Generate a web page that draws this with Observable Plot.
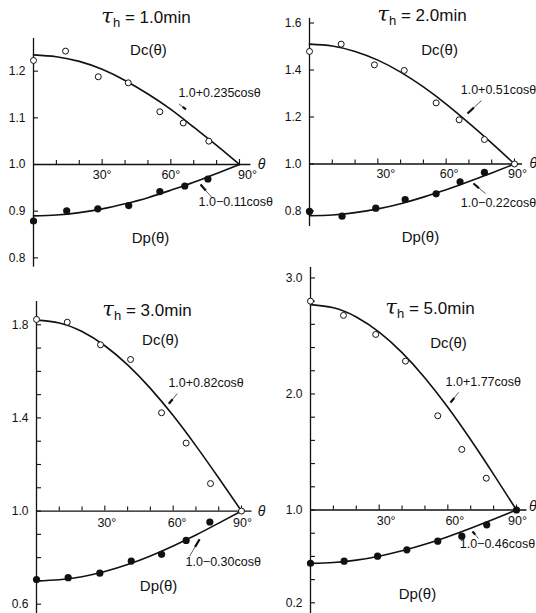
<!DOCTYPE html>
<html><head><meta charset="utf-8">
<script src="https://cdn.jsdelivr.net/npm/d3@7"></script>
<script src="https://cdn.jsdelivr.net/npm/@observablehq/plot@0.6"></script>
<style>
body{margin:0;background:#fff;}
#fig{position:relative;width:536px;height:613px;overflow:hidden;font-family:"Liberation Sans",Arial,sans-serif;color:#111;}
.panel{position:absolute;}
.panel text.formula{letter-spacing:-0.5px;}
.title{position:absolute;font-size:17px;white-space:nowrap;transform:translate(-50%,-50%);line-height:1;}
.title .tau{font-family:"DejaVu Serif",serif;font-style:italic;font-size:21px;}
.title sub{font-size:13px;vertical-align:-4px;}
</style></head><body><div id="fig"></div>
<script>
// ---------- data ----------
const curveTheta = [0,10,20,30,40,50,60,70,80,90];
const xTicks = [10,20,30,40,50,60,70,80,90];
const xTickLabels = [30,60,90];

// tau_h = 1.0 min
const t1Title = "1.0min";
const t1DcTheta = [0,14,28.3,41.4,55.2,65.4,76.6];
const t1Dc      = [1.223,1.243,1.188,1.175,1.113,1.089,1.05];
const t1DpTheta = [0,14.5,28.1,41.6,55.2,66.1,76.2];
const t1Dp      = [0.879,0.901,0.905,0.912,0.942,0.954,0.969];
const t1DcCurve = [1.235,1.231,1.221,1.204,1.180,1.151,1.118,1.080,1.041,1.0];
const t1DpCurve = [0.890,0.892,0.897,0.905,0.916,0.929,0.945,0.962,0.981,1.0];
const t1YTicks  = [0.8,0.9,1.0,1.1,1.2];
const t1YLabels = [0.8,0.9,1.0,1.1,1.2];
const t1DcFormula = "1.0+0.235cosθ";
const t1DpFormula = "1.0−0.11cosθ";

// tau_h = 2.0 min
const t2Title = "2.0min";
const t2DcTheta = [0,13.9,28.5,41.6,55.6,65.7,76.8,90];
const t2Dc      = [1.479,1.51,1.422,1.398,1.26,1.188,1.104,1.0];
const t2DpTheta = [0,14.3,29.1,42,55.6,66.1,76.8];
const t2Dp      = [0.798,0.778,0.812,0.849,0.873,0.924,0.964];
const t2DcCurve = [1.51,1.502,1.479,1.442,1.391,1.328,1.255,1.174,1.089,1.0];
const t2DpCurve = [0.78,0.783,0.793,0.809,0.831,0.859,0.89,0.925,0.962,1.0];
const t2YTicks  = [0.8,1.0,1.2,1.4,1.6];
const t2YLabels = [0.8,1.0,1.2,1.4,1.6];
const t2DcFormula = "1.0+0.51cosθ";
const t2DpFormula = "1.0−0.22cosθ";

// tau_h = 3.0 min
const t3Title = "3.0min";
const t3DcTheta = [0,13.5,28.1,41.3,54.9,65.7,76.4,90];
const t3Dc      = [1.823,1.811,1.714,1.651,1.422,1.292,1.118,1.0];
const t3DpTheta = [0,13.9,27.8,41.6,54.9,65.7,76.1];
const t3Dp      = [0.706,0.714,0.733,0.785,0.814,0.874,0.953];
const t3DcCurve = [1.82,1.808,1.771,1.71,1.628,1.527,1.41,1.28,1.142,1.0];
const t3DpCurve = [0.70,0.705,0.718,0.74,0.77,0.807,0.85,0.897,0.948,1.0];
const t3YTicks  = [0.6,0.7,0.8,0.9,1.0,1.1,1.2,1.3,1.4,1.5,1.6,1.7,1.8];
const t3YLabels = [0.6,1.0,1.4,1.8];
const t3DcFormula = "1.0+0.82cosθ";
const t3DpFormula = "1.0−0.30cosθ";

// tau_h = 5.0 min
const t5Title = "5.0min";
const t5DcTheta = [0,14.4,28.5,41.5,55.6,66.1,76.8];
const t5Dc      = [2.80,2.677,2.513,2.283,1.812,1.522,1.274];
const t5DpTheta = [0,14.7,29.3,42.1,55.6,66.1,77,90];
const t5Dp      = [0.541,0.559,0.602,0.657,0.731,0.774,0.872,1.0];
const t5DcCurve = [2.77,2.743,2.664,2.533,2.356,2.138,1.885,1.605,1.307,1.0];
const t5DpCurve = [0.54,0.547,0.568,0.602,0.648,0.704,0.77,0.843,0.92,1.0];
const t5YTicks  = [0.2,0.4,0.6,0.8,1.0,1.2,1.4,1.6,1.8,2.0,2.2,2.4,2.6,2.8,3.0];
const t5YLabels = [0.2,1.0,2.0,3.0];
const t5DcFormula = "1.0+1.77cosθ";
const t5DpFormula = "1.0−0.46cosθ";

// ---------- layout (positions of panels & annotations) ----------
const panels = [
  {title:t1Title, dcT:t1DcTheta, dc:t1Dc, dpT:t1DpTheta, dp:t1Dp, dcC:t1DcCurve, dpC:t1DpCurve, yt:t1YTicks, yl:t1YLabels, fDc:t1DcFormula, fDp:t1DpFormula,
   left:0, top:0, width:268, height:300, mL:33, mR:29, mT:38, mB:33.3, yDomain:[0.78,1.27], xEnd:95, thetaX:99.6, thetaDy:0, lblDx:[0,0,8], lblDy:10,
   titleXY:[146,17], dcLbl:[50.2,1.244], dpLbl:[51.1,0.842], fDcXY:[63.3,1.154], fDpXY:[72.1,0.919],
   lead1:[63.5,1.130,66.6,1.118], lead2:[78.0,0.929,73.0,0.957]},
  {title:t2Title, dcT:t2DcTheta, dc:t2Dc, dpT:t2DpTheta, dp:t2Dp, dcC:t2DcCurve, dpC:t2DpCurve, yt:t2YTicks, yl:t2YLabels, fDc:t2DcFormula, fDp:t2DpFormula,
   left:268, top:0, width:268, height:300, mL:41, mR:22, mT:17.8, mB:74, yDomain:[0.734,1.62], xEnd:93.5, thetaX:98.3, thetaDy:0, lblDx:[8,3,3], lblDy:10,
   titleXY:[422,15], dcLbl:[57.1,1.483], dpLbl:[48.7,0.687], fDcXY:[66.4,1.317], fDpXY:[66.4,0.836],
   lead1:[75.5,1.270,69.4,1.215], lead2:[77.3,0.874,72.0,0.917]},
  {title:t3Title, dcT:t3DcTheta, dc:t3Dc, dpT:t3DpTheta, dp:t3Dp, dcC:t3DcCurve, dpC:t3DpCurve, yt:t3YTicks, yl:t3YLabels, fDc:t3DcFormula, fDp:t3DpFormula,
   left:0, top:300, width:268, height:313, mL:36, mR:27, mT:1, mB:0, yDomain:[0.56,1.9], xEnd:94.6, thetaX:98.8, thetaDy:0, lblDx:[2,4,1], lblDy:12,
   titleXY:[147,310], dcLbl:[54.4,1.733], dpLbl:[53.6,0.677], fDcXY:[57.9,1.552], fDpXY:[65.4,0.780],
   lead1:[61.8,1.504,58.1,1.461], lead2:[67.2,0.806,71.6,0.879]},
  {title:t5Title, dcT:t5DcTheta, dc:t5Dc, dpT:t5DpTheta, dp:t5Dp, dcC:t5DcCurve, dpC:t5DpCurve, yt:t5YTicks, yl:t5YLabels, fDc:t5DcFormula, fDp:t5DpFormula,
   left:268, top:260, width:268, height:353, mL:42, mR:20, mT:7, mB:0, yDomain:[0.108,3.09], xEnd:94.6, thetaX:97.1, thetaDy:-3, lblDx:[7,7,1], lblDy:11,
   titleXY:[430,308], dcLbl:[60.3,2.435], dpLbl:[46.7,0.272], fDcXY:[59.0,2.099], fDpXY:[65.2,0.711],
   lead1:[64.7,2.013,61.2,1.927], lead2:[73.4,0.754,70.8,0.815]}
];

const fig = document.getElementById("fig");
const fmt = d3.format(".1f");
const FONT = '"Liberation Sans",Arial,sans-serif';
const INK = "#111";

for (const p of panels) {
  const pxX = (p.width - p.mL - p.mR) / 90;
  const pxY = (p.height - p.mT - p.mB) / (p.yDomain[1] - p.yDomain[0]);
  const dcPts = p.dcT.map((t,i)=>({t, v:p.dc[i]}));
  const dpPts = p.dpT.map((t,i)=>({t, v:p.dp[i]}));
  const dcLine = curveTheta.map((t,i)=>({t, v:p.dcC[i]}));
  const dpLine = curveTheta.map((t,i)=>({t, v:p.dpC[i]}));
  const leaders = [p.lead1, p.lead2].map(([x1,y1,x2,y2])=>({x1,y1,x2,y2,
      xm: x1 + (x2-x1)*0.55, ym: y1 + (y2-y1)*0.55}));
  const xLabelMarks = xTickLabels.map((d,i)=>
    Plot.text([d], {x:d=>d, y:1, text:d=>d+"°", dy:p.lblDy, dx:p.lblDx[i], fontSize:12.5, fill:INK}));
  const chart = Plot.plot({
    width: p.width, height: p.height,
    marginLeft: p.mL, marginRight: p.mR, marginTop: p.mT, marginBottom: p.mB,
    x: {domain:[0,90], axis:null},
    y: {domain:p.yDomain, axis:null},
    style: {background:"transparent", fontFamily:FONT, fontSize:"12px", overflow:"visible", color:INK},
    marks: [
      Plot.ruleX([0], {stroke:INK, strokeWidth:1.3}),
      Plot.ruleY([1], {x1:0, x2:p.xEnd, stroke:INK, strokeWidth:1.3}),
      Plot.ruleX(xTicks, {x:d=>d, y1:1, y2:d=>1 + (xTickLabels.includes(d)?5:4)/pxY, stroke:INK, strokeWidth:1.1}),
      Plot.ruleY(p.yt, {y:d=>d, x1:0, x2:5/pxX, stroke:INK, strokeWidth:1.1}),
      Plot.text(p.yl, {x:0, y:d=>d, text:d=>fmt(d), textAnchor:"end", dx:-8, fontSize:12, fill:INK}),
      ...xLabelMarks,
      Plot.text(["θ"], {x:p.thetaX, y:1, dy:p.thetaDy, text:d=>d, fontSize:14, fontStyle:"italic", fill:INK}),
      Plot.line(dcLine, {x:"t", y:"v", curve:"natural", stroke:INK, strokeWidth:1.6}),
      Plot.line(dpLine, {x:"t", y:"v", curve:"natural", stroke:INK, strokeWidth:1.6}),
      Plot.dot(dcPts, {x:"t", y:"v", r:3, fill:"white", stroke:INK, strokeWidth:1}),
      Plot.dot(dpPts, {x:"t", y:"v", r:3.6, fill:INK}),
      Plot.link(leaders, {x1:"x1", y1:"y1", x2:"x2", y2:"y2", stroke:INK, strokeWidth:0.7}),
      Plot.link(leaders, {x1:"xm", y1:"ym", x2:"x2", y2:"y2", stroke:INK, strokeWidth:2.2}),
      Plot.text([p.fDc], {x:p.fDcXY[0], y:p.fDcXY[1], text:d=>d, textAnchor:"start", fontSize:12.5, fill:INK, className:"formula"}),
      Plot.text([p.fDp], {x:p.fDpXY[0], y:p.fDpXY[1], text:d=>d, textAnchor:"start", fontSize:12.5, fill:INK, className:"formula"}),
      Plot.text(["Dc(θ)"], {x:p.dcLbl[0], y:p.dcLbl[1], text:d=>d, fontSize:15, fill:INK}),
      Plot.text(["Dp(θ)"], {x:p.dpLbl[0], y:p.dpLbl[1], text:d=>d, fontSize:15, fill:INK})
    ]
  });
  chart.classList.add("panel");
  chart.style.left = p.left + "px";
  chart.style.top = p.top + "px";
  fig.appendChild(chart);
  const title = document.createElement("div");
  title.className = "title";
  title.innerHTML = '<span class="tau">τ</span><sub>h</sub> = ' + p.title;
  title.style.left = p.titleXY[0] + "px";
  title.style.top = p.titleXY[1] + "px";
  fig.appendChild(title);
}
</script></body></html>
